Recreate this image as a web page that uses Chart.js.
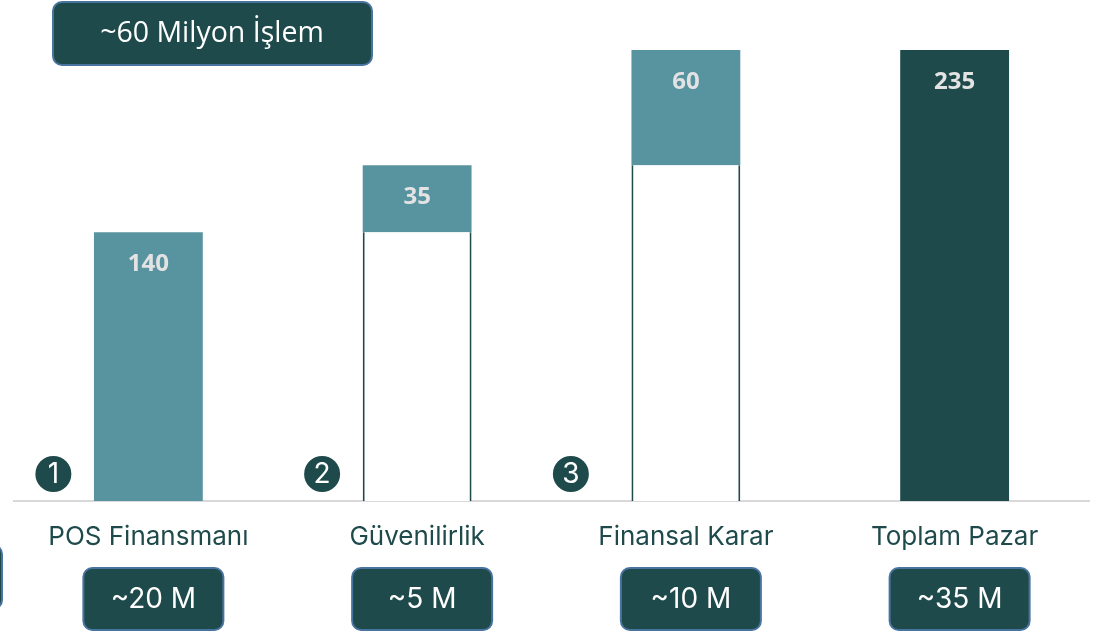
<!DOCTYPE html>
<html>
<head>
<meta charset="utf-8">
<script src="https://cdn.jsdelivr.net/npm/chart.js@4.4.1/dist/chart.umd.min.js"></script>
<style>
  html, body { margin: 0; padding: 0; background: #fff; }
  #wrap { position: relative; width: 1096px; height: 632px; }
</style>
</head>
<body>
<div id="wrap"><canvas id="chart" width="1096" height="632"></canvas></div>
<script>
// waterfall data
const categories = ["POS Finansmanı", "Güvenilirlik", "Finansal Karar", "Toplam Pazar"];
const baseValues = [0, 140, 175, 0];      // invisible offset part
const stepValues = [140, 35, 60, 0];      // teal increments
const totalValues = [0, 0, 0, 235];       // dark total bar
const stepLabels = ["140", "35", "60", "235"];
const txLabels = ["~20 M", "~5 M", "~10 M", "~35 M"];
const markers = ["1", "2", "3", ""];
const headline = "~60 Milyon İşlem";

const DARK = "#1f4a4b";
const TEAL = "#5893a0";
const BOX_BORDER = "#4a74a0";

function roundBox(ctx, x, y, w, h, r) {
  ctx.beginPath();
  ctx.moveTo(x + r, y);
  ctx.arcTo(x + w, y, x + w, y + h, r);
  ctx.arcTo(x + w, y + h, x, y + h, r);
  ctx.arcTo(x, y + h, x, y, r);
  ctx.arcTo(x, y, x + w, y, r);
  ctx.closePath();
  ctx.fillStyle = DARK;
  ctx.fill();
  ctx.lineWidth = 2;
  ctx.strokeStyle = BOX_BORDER;
  ctx.stroke();
}

const extras = {
  id: "extras",
  afterDatasetsDraw(chart) {
    const ctx = chart.ctx;
    const xs = chart.scales.x;
    const ys = chart.scales.y;
    ctx.save();

    // value labels inside the coloured bars
    ctx.font = "bold 24px 'Open Sans'";
    ctx.fillStyle = "#e3e3e3";
    ctx.textAlign = "center";
    ctx.textBaseline = "middle";
    categories.forEach((c, i) => {
      const top = ys.getPixelForValue(baseValues[i] + stepValues[i] + totalValues[i]);
      ctx.fillText(stepLabels[i], xs.getPixelForValue(i), top + 32);
    });

    // numbered circles
    const mOff = [-95, -95, -115, 0];
    markers.forEach((m, i) => {
      if (!m) return;
      const cx = xs.getPixelForValue(i) + mOff[i];
      const cy = ys.bottom - 27;
      ctx.beginPath();
      ctx.arc(cx, cy, 18, 0, Math.PI * 2);
      ctx.fillStyle = DARK;
      ctx.fill();
      ctx.fillStyle = "#fff";
      ctx.font = "28px Inter";
      ctx.fillText(m, cx, cy + 1);
    });

    // category names
    ctx.font = "26px Inter";
    ctx.fillStyle = DARK;
    categories.forEach((c, i) => {
      ctx.fillText(c, xs.getPixelForValue(i), 537);
    });

    // transaction boxes
    txLabels.forEach((t, i) => {
      const cx = xs.getPixelForValue(i) + 5;
      roundBox(ctx, cx - 70, 568, 140, 62, 9);
      ctx.fillStyle = "#fff";
      ctx.font = "28px Inter";
      ctx.fillText(t, cx, 600);
    });
    // clipped box at the left edge
    roundBox(ctx, -140, 545, 142, 64, 9);

    // headline box
    roundBox(ctx, 53, 2, 319, 63, 9);
    ctx.fillStyle = "#fff";
    ctx.font = "28.5px 'Open Sans'";
    ctx.fillText(headline, 212, 34);

    ctx.restore();
  }
};

new Chart(document.getElementById("chart"), {
  type: "bar",
  data: {
    labels: categories,
    datasets: [
      {
        data: baseValues,
        backgroundColor: "#ffffff",
        borderColor: DARK,
        borderWidth: { left: 2, right: 2, top: 0, bottom: 0 },
        borderSkipped: false
      },
      { data: stepValues, backgroundColor: TEAL },
      { data: totalValues, backgroundColor: DARK }
    ]
  },
  options: {
    responsive: false,
    animation: false,
    layout: { padding: { left: 14, right: 7, top: 50, bottom: 123 } },
    datasets: { bar: { barPercentage: 0.405, categoryPercentage: 1 } },
    plugins: { legend: { display: false }, tooltip: { enabled: false } },
    scales: {
      x: {
        stacked: true,
        grid: { display: false },
        border: { display: true, color: "#d9d9d9", width: 2 },
        ticks: { display: false }
      },
      y: {
        stacked: true,
        display: false,
        min: 0,
        max: 235
      }
    }
  },
  plugins: [extras]
});
</script>
</body>
</html>
